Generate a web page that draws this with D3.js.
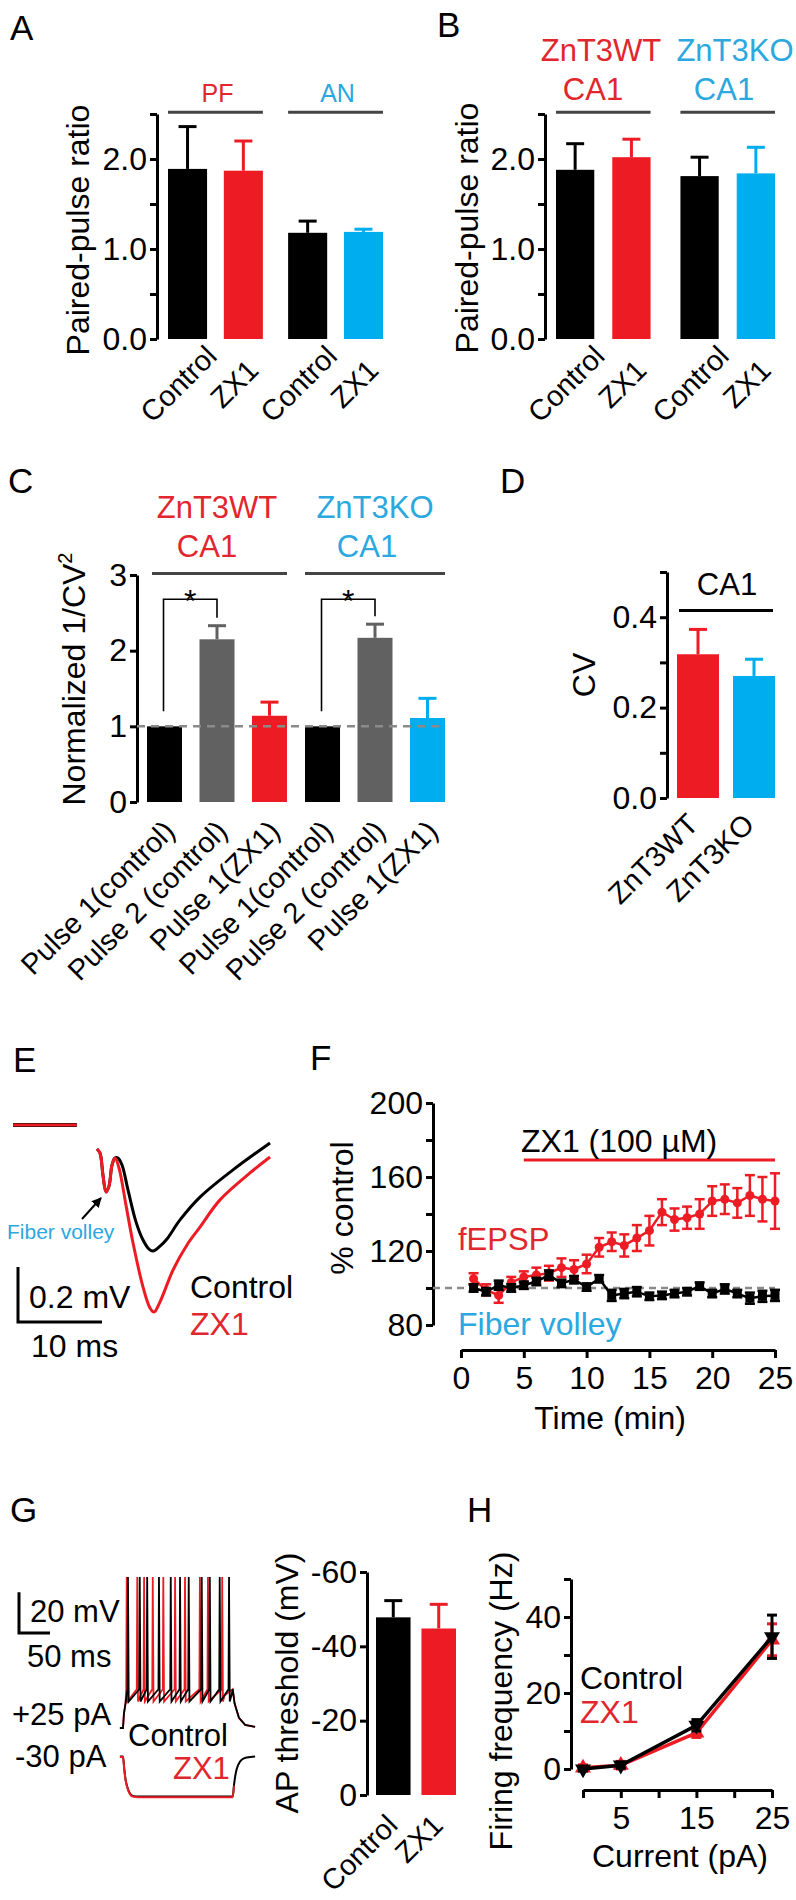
<!DOCTYPE html>
<html>
<head>
<meta charset="utf-8">
<script src="https://cdnjs.cloudflare.com/ajax/libs/d3/7.8.5/d3.min.js"></script>
<style>
  body { margin: 0; background: #fff; }
  svg text { font-family: Arial, "Liberation Sans", Helvetica, sans-serif; }
</style>
</head>
<body>
<div id="fig"></div>
<script>
// ---------------- data ----------------
// A: paired-pulse ratio, PF vs AN
const condsAB = ["Control", "ZX1"];
const groupsA = ["PF", "AN"];
const meanA = [[1.89, 1.87], [1.18, 1.19]];
const semA  = [[0.47, 0.33], [0.13, 0.03]];

// B: paired-pulse ratio, CA1 WT vs KO
const groupsB = ["ZnT3WT", "ZnT3KO"];
const meanB = [[1.88, 2.02], [1.81, 1.84]];
const semB  = [[0.29, 0.20], [0.21, 0.29]];

// C: normalized 1/CV^2
const condsC = ["Pulse 1(control)", "Pulse 2 (control)", "Pulse 1(ZX1)"];
const meanC = [[1.0, 2.15, 1.14], [1.0, 2.17, 1.11]];
const semC  = [[0, 0.18, 0.18], [0, 0.18, 0.26]];

// D: CV
const genotypesD = ["ZnT3WT", "ZnT3KO"];
const meanD = [0.318, 0.27];
const semD  = [0.055, 0.037];

// E: example fEPSP traces (ms, mV)
const traceT_ctl = [0, 0.36, 0.71, 1.07, 1.43, 1.79, 2.14, 2.5, 2.98, 3.69, 4.64, 5.48, 6.19, 6.67, 7.5, 8.33, 9.88, 12.26, 16.19, 20.6];
const traceV_ctl = [0, -0.015, -0.095, -0.156, -0.135, -0.058, -0.033, -0.033, -0.058, -0.149, -0.265, -0.331, -0.364, -0.371, -0.353, -0.327, -0.258, -0.175, -0.076, 0.022];
const traceT_zx1 = [0, 0.36, 0.71, 1.07, 1.43, 1.79, 2.14, 2.62, 3.45, 4.29, 5.48, 6.31, 6.79, 7.5, 9.05, 10.71, 12.26, 14.64, 18.21, 20.6];
const traceV_zx1 = [0, -0.015, -0.095, -0.156, -0.135, -0.058, -0.033, -0.069, -0.204, -0.342, -0.502, -0.578, -0.593, -0.556, -0.44, -0.349, -0.284, -0.185, -0.087, -0.029];
const artifactT = [-10, -2.4];
const artifactV = [0.087, 0.087];

// F: time course (% control)
const timeF = [1, 2, 3, 4, 5, 6, 7, 8, 9, 10, 11, 12, 13, 14, 15, 16, 17, 18, 19, 20, 21, 22, 23, 24, 25];
const fepsp    = [105, 99, 96, 103, 106, 107, 108, 111, 110, 113, 122, 125, 123, 127, 131, 141, 137, 138, 140, 147, 148, 146, 150, 148, 147];
const fepspSem = [3, 3, 4, 3, 3, 4, 4, 5, 5, 5, 5, 5, 6, 7, 8, 7, 6, 6, 8, 8, 8, 8, 11, 12, 15];
const fiberV    = [100, 98, 101.5, 100, 101.5, 103.5, 107, 102.5, 104.5, 100.5, 105, 96, 97, 98, 95.5, 96, 97, 98, 101, 97, 99.5, 97, 94.5, 95.5, 96];
const fiberVSem = [2, 2, 2.5, 2, 2, 2, 2.5, 2, 2, 2, 2, 3, 2.5, 2.5, 2, 2, 2, 2, 2, 2, 2.5, 2, 3, 3, 3];

// G: firing traces (spike times in ms after step onset) and AP threshold
const spikesCtl = [8, 27, 39, 58, 77, 92, 106, 127, 140, 156, 171];
const spikesZX1 = [6, 23, 34, 48, 65, 84, 100, 124, 137, 160];
const stepEnd = 177;
const meanG = [-47.8, -44.8];
const semG  = [4.5, 6.5];

// H: firing frequency vs current
const currentH = [0, 5, 15, 25];
const freqCtl = [0, 1, 11.5, 34.8];
const freqCtlSem = [0.5, 0.8, 1.5, 5.7];
const freqZX1 = [0.3, 1, 9.5, 34];
const freqZX1Sem = [0.8, 1, 1.2, 4.2];

// ---------------- setup ----------------
const RED = "#ed1c24", BLUE = "#00aeef", TRED = "#e2262d", TBLUE = "#2aa8df";
const GRAY = "#616161", LINEG = "#444";

const svg = d3.select("#fig").append("svg")
    .attr("width", 796).attr("height", 1900);

function txt(s, x, y, size, color, anchor) {
    return svg.append("text").attr("x", x).attr("y", y)
        .attr("font-size", size).attr("fill", color || "#000")
        .attr("text-anchor", anchor || "start").text(s);
}

function yLabel(s, x, cy, size) {
    svg.append("text")
        .attr("transform", "translate(" + x + "," + cy + ") rotate(-90)")
        .attr("text-anchor", "middle").attr("font-size", size || 32).text(s);
}

function styleAxis(gg, fs) {
    gg.attr("font-family", null).attr("font-size", null);
    gg.select(".domain").attr("stroke", "#000").attr("stroke-width", 3);
    gg.selectAll(".tick line").attr("stroke", "#000").attr("stroke-width", 3);
    gg.selectAll(".tick text").attr("font-size", fs || 32).attr("fill", "#000");
    return gg;
}

function yAxis(y, x, ticks, labelled, fmt) {
    const ax = d3.axisLeft(y).tickValues(ticks).tickSizeInner(7).tickSizeOuter(0).tickPadding(3)
        .tickFormat(d => labelled.includes(d) ? fmt(d) : "");
    return styleAxis(svg.append("g").attr("transform", "translate(" + x + ",0)").call(ax));
}

// grouped bar chart with upward error bars
function groupedBars(o) {
    const x0 = d3.scaleBand().domain(o.groups).range(o.range).paddingInner(o.pg);
    const x1 = d3.scaleBand().domain(o.conds).range([0, x0.bandwidth()]).paddingInner(o.pb);
    const rows = [];
    o.groups.forEach((grp, gi) => o.conds.forEach((c, ci) => rows.push({
        grp: grp, c: c, v: o.means[gi][ci], e: o.sems[gi][ci], col: o.colors[gi][ci]
    })));
    const y = o.y;
    const left = d => x0(d.grp) + x1(d.c);
    const mid = d => left(d) + x1.bandwidth() / 2;
    const top = d => d.v >= 0 ? d.v + d.e : d.v - d.e;

    const g = svg.append("g");
    const eb = g.selectAll(".err").data(rows.filter(d => d.e > 0)).join("g");
    eb.append("line")
        .attr("x1", mid).attr("x2", mid)
        .attr("y1", d => y(d.v)).attr("y2", d => y(top(d)))
        .attr("stroke", d => d.col).attr("stroke-width", 3);
    eb.append("line")
        .attr("x1", d => mid(d) - 9).attr("x2", d => mid(d) + 9)
        .attr("y1", d => y(top(d))).attr("y2", d => y(top(d)))
        .attr("stroke", d => d.col).attr("stroke-width", 3);

    g.selectAll(".bar").data(rows).join("rect")
        .attr("x", left).attr("width", x1.bandwidth())
        .attr("y", d => Math.min(y(d.v), y(0)))
        .attr("height", d => Math.abs(y(0) - y(d.v)))
        .attr("fill", d => d.col);

    if (o.labelY !== undefined) {
        g.selectAll(".xl").data(rows).join("text")
            .attr("transform", d => "translate(" + (mid(d) + o.labelDx) + "," + o.labelY + ") rotate(-45)")
            .attr("text-anchor", o.labelAnchor || "end").attr("font-size", o.labelSize || 29)
            .text(d => d.c);
    }
    return {x0: x0, x1: x1, rows: rows, mid: mid};
}

function groupLine(x1, x2, y, color) {
    svg.append("line").attr("x1", x1).attr("x2", x2).attr("y1", y).attr("y2", y)
        .attr("stroke", color || LINEG).attr("stroke-width", 3);
}

// ---------------- panel letters ----------------
[["A", 10, 40], ["B", 437, 37], ["C", 8, 493], ["D", 500, 493],
 ["E", 13, 1072], ["F", 310, 1070], ["G", 10, 1522], ["H", 467, 1522]]
    .forEach(p => txt(p[0], p[1], p[2], 35));

// ---------------- A ----------------
const yA = d3.scaleLinear().domain([0, 2.5]).range([339, 114]);
yAxis(yA, 157, [0, 0.5, 1, 1.5, 2, 2.5], [0, 1, 2], d3.format(".1f"));
yLabel("Paired-pulse ratio", 89, 230, 32);
const bA = groupedBars({
    groups: groupsA, conds: condsAB, means: meanA, sems: semA,
    colors: [["#000", RED], ["#000", BLUE]],
    range: [168, 383], pg: 0.21, pb: 0.3, y: yA,
    labelY: 391, labelDx: -2, labelAnchor: "middle", labelSize: 29
});
groupsA.forEach((grp, i) => {
    const xa = bA.x0(grp), xb = xa + bA.x0.bandwidth();
    groupLine(xa, xb, yA(2.52));
    txt(grp, (xa + xb) / 2 + 2, 102, 25, i === 0 ? TRED : TBLUE, "middle");
});

// ---------------- B ----------------
const yB = d3.scaleLinear().domain([0, 2.5]).range([339, 114]);
yAxis(yB, 545, [0, 0.5, 1, 1.5, 2, 2.5], [0, 1, 2], d3.format(".1f"));
yLabel("Paired-pulse ratio", 478, 228, 32);
const bB = groupedBars({
    groups: groupsB, conds: condsAB, means: meanB, sems: semB,
    colors: [["#000", RED], ["#000", BLUE]],
    range: [556, 775], pg: 0.24, pb: 0.32, y: yB,
    labelY: 391, labelDx: -2, labelAnchor: "middle", labelSize: 29
});
groupsB.forEach((grp, i) => {
    const xa = bB.x0(grp), xb = xa + bB.x0.bandwidth();
    groupLine(xa, xb, yB(2.52));
});
txt("ZnT3WT", 601, 61, 31, TRED, "middle");
txt("CA1", 593, 100, 31, TRED, "middle");
txt("ZnT3KO", 735, 61, 31, TBLUE, "middle");
txt("CA1", 724, 100, 31, TBLUE, "middle");

// ---------------- C ----------------
const yC = d3.scaleLinear().domain([0, 3]).range([802, 575]);
yAxis(yC, 137, [0, 1, 2, 3], [0, 1, 2, 3], d3.format("d"));
const ylc = svg.append("text")
    .attr("transform", "translate(85,679) rotate(-90)")
    .attr("text-anchor", "middle").attr("font-size", 32);
ylc.append("tspan").text("Normalized 1/CV");
ylc.append("tspan").attr("font-size", 20).attr("dy", -13).text("2");

const bC = groupedBars({
    groups: groupsB, conds: condsC, means: meanC, sems: semC,
    colors: [["#000", GRAY, RED], ["#000", GRAY, BLUE]],
    range: [147, 445], pg: 0.114, pb: 0.333, y: yC,
    labelY: 833, labelDx: 12, labelSize: 29
});
svg.append("line").attr("x1", 137).attr("x2", 445)
    .attr("y1", yC(1)).attr("y2", yC(1))
    .attr("stroke", "#8a8a8a").attr("stroke-width", 2.5).attr("stroke-dasharray", "8,6");
groupsB.forEach((grp, i) => {
    const xa = bC.x0(grp), xb = xa + bC.x0.bandwidth();
    groupLine(xa + (i === 0 ? 5 : 0), xb, yC(3.02));
    // significance bracket pulse 1 vs pulse 2
    const r1 = bC.rows[i * 3], r2 = bC.rows[i * 3 + 1];
    const xl = bC.mid(r1) - 1, xr = bC.mid(r2);
    const yt = yC(2.68);
    svg.append("path")
        .attr("d", "M" + xl + "," + (yC(r1.v) - 15) + "V" + yt + "H" + xr + "V" + (yC(r2.v + r2.e) - 8))
        .attr("fill", "none").attr("stroke", "#000").attr("stroke-width", 1.6);
    txt("*", (xl + xr) / 2, yt + 13, 32, "#000", "middle");
});
txt("ZnT3WT", 217, 518, 31, TRED, "middle");
txt("CA1", 207, 557, 31, TRED, "middle");
txt("ZnT3KO", 375, 518, 31, TBLUE, "middle");
txt("CA1", 367, 557, 31, TBLUE, "middle");

// ---------------- D ----------------
const yD = d3.scaleLinear().domain([0, 0.5]).range([798, 572]);
yAxis(yD, 667, [0, 0.1, 0.2, 0.3, 0.4, 0.5], [0, 0.2, 0.4], d3.format(".1f"));
yLabel("CV", 595, 675, 32);
const bD = groupedBars({
    groups: ["CA1"], conds: genotypesD, means: [meanD], sems: [semD],
    colors: [[RED, BLUE]],
    range: [677, 775], pg: 0, pb: 0.25, y: yD,
    labelY: 826, labelDx: 2, labelSize: 29
});
groupLine(679, 773, yD(0.415), "#000");
txt("CA1", 727, 595, 31, "#000", "middle");

// ---------------- E ----------------
const xE = d3.scaleLinear().domain([0, 10]).range([97, 181]);
const yE = d3.scaleLinear().domain([0, -0.2]).range([1149, 1204]);
const lineE = d3.line().x(d => xE(d[0])).y(d => yE(d[1])).curve(d3.curveCatmullRom.alpha(0.5));
svg.append("path").attr("d", lineE(d3.zip(artifactT, artifactV)))
    .attr("fill", "none").attr("stroke", "#3a1010").attr("stroke-width", 4);
svg.append("path").attr("d", lineE(d3.zip(artifactT, artifactV)))
    .attr("fill", "none").attr("stroke", RED).attr("stroke-width", 2.5);
svg.append("path").attr("d", lineE(d3.zip(traceT_ctl, traceV_ctl)))
    .attr("fill", "none").attr("stroke", "#000").attr("stroke-width", 3);
svg.append("path").attr("d", lineE(d3.zip(traceT_zx1, traceV_zx1)))
    .attr("fill", "none").attr("stroke", RED).attr("stroke-width", 3);

// scale bar
const sbW = xE(10) - xE(0), sbH = yE(-0.2) - yE(0);
svg.append("path")
    .attr("d", "M18," + (1322 - sbH) + "V1322H" + (18 + sbW))
    .attr("fill", "none").attr("stroke", "#000").attr("stroke-width", 3);
txt("0.2 mV", 29, 1308, 32);
txt("10 ms", 31, 1357, 32);
txt("Control", 190, 1298, 32);
txt("ZX1", 190, 1335, 32, TRED);
txt("Fiber volley", 7, 1239, 21, TBLUE);
svg.append("defs").append("marker")
    .attr("id", "arr").attr("viewBox", "0 0 10 10").attr("refX", 9).attr("refY", 5)
    .attr("markerWidth", 5).attr("markerHeight", 5).attr("orient", "auto")
    .append("path").attr("d", "M0,0L10,5L0,10z").attr("fill", "#000");
svg.append("line").attr("x1", 82).attr("y1", 1219).attr("x2", 101).attr("y2", 1198)
    .attr("stroke", "#000").attr("stroke-width", 2).attr("marker-end", "url(#arr)");

// ---------------- F ----------------
const xF = d3.scaleLinear().domain([0, 25]).range([461, 775]);
const yF = d3.scaleLinear().domain([80, 200]).range([1325, 1103]);
yAxis(yF, 433, [80, 100, 120, 140, 160, 180, 200], [80, 120, 160, 200], d3.format("d"));
styleAxis(svg.append("g").attr("transform", "translate(0,1350)")
    .call(d3.axisBottom(xF).tickValues([0, 5, 10, 15, 20, 25]).tickSizeInner(8).tickSizeOuter(0).tickPadding(8)));
yLabel("% control", 353, 1208, 32);
txt("Time (min)", 610, 1429, 32, "#000", "middle");
svg.append("line").attr("x1", 433).attr("x2", 775).attr("y1", yF(100)).attr("y2", yF(100))
    .attr("stroke", "#8a8a8a").attr("stroke-width", 2.5).attr("stroke-dasharray", "7,5");
svg.append("line").attr("x1", xF(5)).attr("x2", xF(25)).attr("y1", 1160).attr("y2", 1160)
    .attr("stroke", RED).attr("stroke-width", 3);
txt("ZX1 (100 µM)", 521, 1152, 32);
txt("fEPSP", 458, 1250, 31, TRED);
txt("Fiber volley", 458, 1335, 32, TBLUE);

function timeSeries(vals, sems, color, shape) {
    const pts = timeF.map((t, i) => ({t: t, v: vals[i], e: sems[i]}));
    const g = svg.append("g");
    g.append("path")
        .attr("d", d3.line().x(d => xF(d.t)).y(d => yF(d.v))(pts))
        .attr("fill", "none").attr("stroke", color).attr("stroke-width", 2.5);
    const eb = g.selectAll(".e").data(pts).join("g").attr("stroke", color).attr("stroke-width", 2.5);
    eb.append("line").attr("x1", d => xF(d.t)).attr("x2", d => xF(d.t))
        .attr("y1", d => yF(d.v - d.e)).attr("y2", d => yF(d.v + d.e));
    [-1, 1].forEach(s => eb.append("line")
        .attr("x1", d => xF(d.t) - 5).attr("x2", d => xF(d.t) + 5)
        .attr("y1", d => yF(d.v + s * d.e)).attr("y2", d => yF(d.v + s * d.e)));
    if (shape === "circle") {
        g.selectAll(".m").data(pts).join("circle")
            .attr("cx", d => xF(d.t)).attr("cy", d => yF(d.v)).attr("r", 4.5).attr("fill", color);
    } else {
        g.selectAll(".m").data(pts).join("rect")
            .attr("x", d => xF(d.t) - 4.5).attr("y", d => yF(d.v) - 4.5)
            .attr("width", 9).attr("height", 9).attr("fill", color);
    }
}
timeSeries(fepsp, fepspSem, RED, "circle");
timeSeries(fiberV, fiberVSem, "#000", "square");

// ---------------- G traces ----------------
const xG = d3.scaleLinear().domain([0, 50]).range([123, 154]);
const yGp = d3.scaleLinear().domain([-70, 5]).range([1728, 1575]);   // +25 pA sweep
const yGn = d3.scaleLinear().domain([-70, -90]).range([1757, 1798]); // -30 pA sweep (offset for display)

function spikeTrace(spikes) {
    const pts = [[-5, -70], [0, -70], [1.5, -63], [4, -58]];
    spikes.forEach(s => { pts.push([s - 0.8, -51], [s, 4], [s + 1.2, -57]); });
    const last = spikes[spikes.length - 1];
    pts.push([last + 4, -54], [stepEnd, -51], [stepEnd + 3, -58], [stepEnd + 10, -65], [stepEnd + 20, -68.5], [stepEnd + 36, -69.5]);
    return pts;
}
const hyperT = [-5, 0, 2, 4, 7, 11, 16, 25, 177, 179, 182, 186, 192, 200, 213];
const hyperV = [-70, -70, -76, -81, -85, -88, -89.3, -89.6, -89.6, -84, -78, -74, -71.5, -70.5, -70];

const lineGp = d3.line().x(d => xG(d[0])).y(d => yGp(d[1]));
const lineGn = d3.line().x(d => xG(d[0])).y(d => yGn(d[1])).curve(d3.curveMonotoneX);
svg.append("path").attr("d", lineGn(d3.zip(hyperT, hyperV).map(d => [d[0], d[1] + 0.3])))
    .attr("fill", "none").attr("stroke", "#000").attr("stroke-width", 2);
svg.append("path").attr("d", lineGn(d3.zip(hyperT, hyperV).filter(d => d[0] < 182)))
    .attr("fill", "none").attr("stroke", RED).attr("stroke-width", 2);
svg.append("path").attr("d", lineGp(spikeTrace(spikesZX1)))
    .attr("fill", "none").attr("stroke", RED).attr("stroke-width", 1.8);
svg.append("path").attr("d", lineGp(spikeTrace(spikesCtl)))
    .attr("fill", "none").attr("stroke", "#000").attr("stroke-width", 1.8);

const gsbW = xG(50) - xG(0), gsbH = yGp(-70) - yGp(-50);
svg.append("path")
    .attr("d", "M19," + (1633 - gsbH) + "V1633H" + (19 + gsbW))
    .attr("fill", "none").attr("stroke", "#000").attr("stroke-width", 3);
txt("20 mV", 30, 1622, 31);
txt("50 ms", 27, 1667, 31);
txt("+25 pA", 12, 1725, 31);
txt("-30 pA", 15, 1767, 31);
txt("Control", 128, 1746, 31);
txt("ZX1", 173, 1779, 31, TRED);

// ---------------- G bars ----------------
const yG = d3.scaleLinear().domain([0, -60]).range([1795, 1572]);
yAxis(yG, 367, [0, -20, -40, -60], [0, -20, -40, -60], d => String(d));
yLabel("AP threshold (mV)", 298, 1683, 32);
groupedBars({
    groups: ["G"], conds: condsAB, means: [meanG], sems: [semG],
    colors: [["#000", RED]],
    range: [376, 456], pg: 0, pb: 0.24, y: yG,
    labelY: 1827, labelDx: 6, labelSize: 29
});

// ---------------- H ----------------
const xH = d3.scaleLinear().domain([0, 25]).range([583, 772]);
const yH = d3.scaleLinear().domain([0, 50]).range([1769, 1579]);
yAxis(yH, 571, [0, 10, 20, 30, 40, 50], [0, 20, 40], d3.format("d"));
styleAxis(svg.append("g").attr("transform", "translate(0,1790)")
    .call(d3.axisBottom(xH).tickValues([0, 5, 10, 15, 20, 25]).tickSizeInner(8).tickSizeOuter(0).tickPadding(8)
        .tickFormat(d => [5, 15, 25].includes(d) ? d : "")));
yLabel("Firing frequency (Hz)", 512, 1701, 32);
txt("Current (pA)", 680, 1867, 32, "#000", "middle");
txt("Control", 580, 1689, 32);
txt("ZX1", 580, 1723, 32, TRED);

function fiCurve(vals, sems, color, rot) {
    const pts = currentH.map((c, i) => ({c: c, v: vals[i], e: sems[i]}));
    const g = svg.append("g");
    g.append("path").attr("d", d3.line().x(d => xH(d.c)).y(d => yH(d.v))(pts))
        .attr("fill", "none").attr("stroke", color).attr("stroke-width", 3.5);
    const eb = g.selectAll(".e").data(pts).join("g").attr("stroke", color).attr("stroke-width", 3);
    eb.append("line").attr("x1", d => xH(d.c)).attr("x2", d => xH(d.c))
        .attr("y1", d => yH(d.v - d.e)).attr("y2", d => yH(d.v + d.e));
    [-1, 1].forEach(s => eb.append("line")
        .attr("x1", d => xH(d.c) - 5).attr("x2", d => xH(d.c) + 5)
        .attr("y1", d => yH(d.v + s * d.e)).attr("y2", d => yH(d.v + s * d.e)));
    g.selectAll(".m").data(pts).join("path")
        .attr("d", d3.symbol(d3.symbolTriangle, 110))
        .attr("transform", d => "translate(" + xH(d.c) + "," + yH(d.v) + ") rotate(" + rot + ")")
        .attr("fill", color);
}
fiCurve(freqZX1, freqZX1Sem, RED, 0);
fiCurve(freqCtl, freqCtlSem, "#000", 180);
</script>
</body>
</html>
